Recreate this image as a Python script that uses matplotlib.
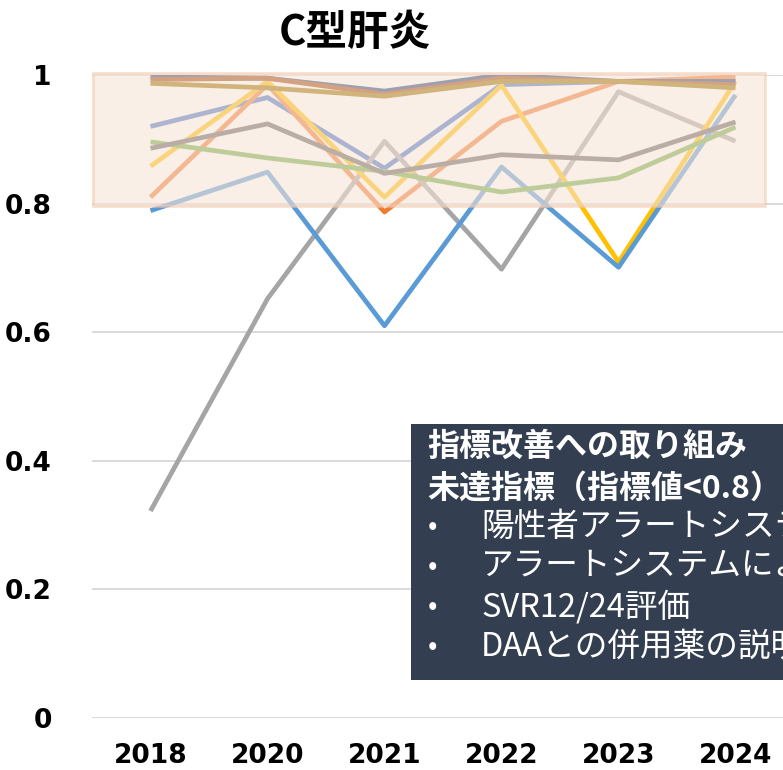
import matplotlib
matplotlib.use("Agg")
import matplotlib.pyplot as plt
from matplotlib.patches import Rectangle

years = ["2018", "2020", "2021", "2022", "2023", "2024"]
s1 = [0.920, 0.965, 0.855, 0.985, 0.990, 0.990]
s2 = [0.810, 0.985, 0.787, 0.928, 0.990, 0.997]
s3 = [0.322, 0.652, 0.897, 0.698, 0.974, 0.897]
s4 = [0.858, 0.990, 0.810, 0.984, 0.709, 0.990]
s5 = [0.789, 0.849, 0.610, 0.857, 0.701, 0.969]
s6 = [0.896, 0.871, 0.850, 0.818, 0.840, 0.919]
s7 = [0.997, 0.995, 0.975, 1.000, 0.990, 0.990]
s8 = [0.993, 0.995, 0.970, 0.995, 0.990, 0.985]
s9 = [0.886, 0.924, 0.847, 0.876, 0.868, 0.927]
s10 = [0.987, 0.980, 0.967, 0.990, 0.990, 0.980]
series = [s1, s2, s3, s4, s5, s6, s7, s8, s9, s10]
colors = ["#4472C4", "#ED7D31", "#A5A5A5", "#FFC000", "#5B9BD5",
          "#70AD47", "#264478", "#9E480E", "#636363", "#997300"]
yticks = [0, 0.2, 0.4, 0.6, 0.8, 1.0]
ytick_labels = ["0", "0.2", "0.4", "0.6", "0.8", "1"]

title = "C型肝炎"
box_lines_bold = ["指標改善への取り組み", "未達指標（指標値<0.8）"]
box_lines = ["陽性者アラートシステム", "アラートシステムによる",
             "SVR12/24評価", "DAAとの併用薬の説明"]

W, H = 783, 770
fig = plt.figure(figsize=(W / 100, H / 100), dpi=100)
ax = fig.add_axes([92 / W, 52 / H, 702 / W, 643 / H])

x = list(range(len(years)))
for vals, c in zip(series, colors):
    ax.plot(x, vals, color=c, lw=3.4, solid_capstyle="butt", zorder=3)

ax.set_xlim(-0.5, len(years) - 0.5)
ax.set_ylim(0, 1)
ax.set_xticks(x)
ax.set_xticklabels(years, fontsize=19, fontweight="bold", family="DejaVu Sans")
ax.set_yticks(yticks)
ax.set_yticklabels(ytick_labels, fontsize=19, fontweight="bold", family="DejaVu Sans")
ax.tick_params(axis="both", length=0)
ax.tick_params(axis="y", pad=29)
ax.tick_params(axis="x", pad=18)
for sp in ax.spines.values():
    sp.set_visible(False)
ax.grid(axis="y", color="#D9D9D9", lw=1.4, zorder=0)
ax.set_axisbelow(True)

# highlighted target band (overlaid semi-transparently on the lines)
ax.add_patch(Rectangle((-0.49, 0.797), 5.74, 0.206, facecolor="#F8E4D7",
                       edgecolor="#F5C9AE", lw=2, alpha=0.58, zorder=5,
                       clip_on=False))

fig.text(355 / W, 1 - 33 / H, title, ha="center", va="center", fontsize=30,
         fontweight="bold", family=["Noto Sans CJK JP", "DejaVu Sans"])

# dark text box
fig.patches.append(Rectangle((411 / W, 90 / H), 1.0, (680 - 424) / H,
                             transform=fig.transFigure, facecolor="#333F50",
                             edgecolor="none", zorder=10))
fam = ["Noto Sans CJK JP", "DejaVu Sans"]
ys_bold = [447, 489]
for t, yy in zip(box_lines_bold, ys_bold):
    fig.text(427 / W, 1 - yy / H, t, ha="left", va="center", fontsize=23,
             fontweight="bold", color="white", family=fam, zorder=11)
ys = [527, 567, 607, 647]
for t, yy in zip(box_lines, ys):
    fig.text(428 / W, 1 - yy / H, "•", ha="left", va="center", fontsize=20,
             color="white", family=fam, zorder=11)
    fig.text(481 / W, 1 - yy / H, t, ha="left", va="center", fontsize=23.5,
             color="white", family=fam, zorder=11)

fig.savefig("out.png", dpi=100)
